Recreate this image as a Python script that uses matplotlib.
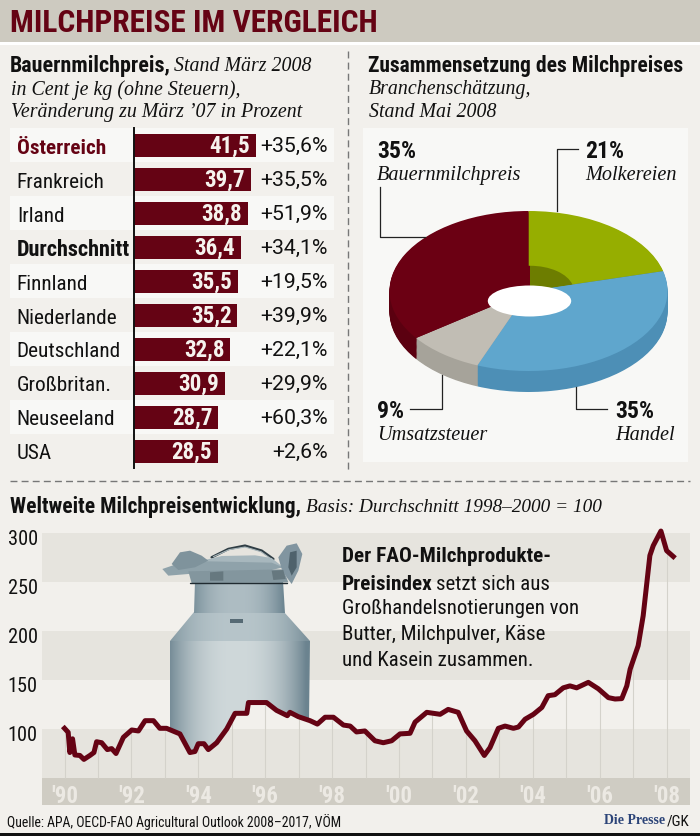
import numpy as np
import matplotlib
matplotlib.use("Agg")
import matplotlib.pyplot as plt
from matplotlib.patches import Polygon, Ellipse, Rectangle
from matplotlib.transforms import ScaledTranslation

# ---------- data ----------
countries = ["Österreich", "Frankreich", "Irland", "Durchschnitt", "Finnland",
             "Niederlande", "Deutschland", "Großbritan.", "Neuseeland", "USA"]
prices = [41.5, 39.7, 38.8, 36.4, 35.5, 35.2, 32.8, 30.9, 28.7, 28.5]
changes = ["+35,6%", "+35,5%", "+51,9%", "+34,1%", "+19,5%",
           "+39,9%", "+22,1%", "+29,9%", "+60,3%", "+2,6%"]

shares = [21, 35, 9, 35]
share_names = ["Molkereien", "Handel", "Umsatzsteuer", "Bauernmilchpreis"]

years = [1990.0, 1990.11, 1990.16, 1990.24, 1990.31, 1990.46, 1990.58, 1990.76, 1990.88, 1990.96,
         1991.11, 1991.28, 1991.41, 1991.54, 1991.76, 1992.01, 1992.21, 1992.41, 1992.66, 1992.85,
         1993.05, 1993.45, 1993.75, 1993.90, 1994.0, 1994.17, 1994.30, 1994.55, 1994.85, 1995.10,
         1995.45, 1995.50, 1995.74, 1996.04, 1996.34, 1996.66, 1996.74, 1996.99, 1997.34, 1997.56,
         1997.79, 1998.04, 1998.34, 1998.54, 1998.73, 1998.98, 1999.28, 1999.53, 1999.78, 2000.03,
         2000.33, 2000.48, 2000.83, 2001.23, 2001.47, 2001.77, 2002.02, 2002.27, 2002.55, 2002.72,
         2002.97, 2003.17, 2003.42, 2003.57, 2003.77, 2004.02, 2004.27, 2004.46, 2004.66, 2004.91,
         2005.11, 2005.31, 2005.66, 2005.96, 2006.26, 2006.46, 2006.66, 2006.81, 2006.91, 2007.15,
         2007.30, 2007.50, 2007.60, 2007.83, 2008.0, 2008.2]
index = [100.7, 96.6, 76, 90, 73.5, 73, 69, 73, 76, 87,
         86, 79, 80, 75, 91.5, 99, 98, 108.5, 108.5, 100.7,
         100.7, 95, 76, 77, 85, 85, 79, 86, 100, 116,
         116, 127, 127, 127, 119, 113.6, 117, 112.6, 108.5, 105,
         112, 112, 104, 103, 97, 98, 88, 86, 88, 95,
         95.6, 107, 117, 115, 120, 117, 98, 88, 73, 81,
         100.7, 103, 100.7, 102, 110, 115, 122, 134, 135, 142,
         144, 142, 147.6, 141, 132, 130.6, 131, 144, 161, 185,
         215.6, 277, 287, 302, 282, 276]
year_ticks = list(range(1990, 2009, 2))
year_labels = ["'90", "'92", "'94", "'96", "'98", "'00", "'02", "'04", "'06", "'08"]
index_ticks = [100, 150, 200, 250, 300]

# ---------- style ----------
W, H = 700, 837
BG = "#f2f0ec"; LIGHT = "#f8f8f6"; HEAD = "#cdcac0"; RED = "#650314"
BAND = "#e6e4de"; STRIP = "#cfccc3"
NARROW = ["Roboto Condensed", "DejaVu Sans"]
WIDE = ["Roboto", "DejaVu Sans"]
SERIF = ["Liberation Serif", "DejaVu Serif"]
IT = 14.3

fig = plt.figure(figsize=(7, 8.37), dpi=100, facecolor=BG)

def px_axes(l, t, r, b, z):
    ax = fig.add_axes([l / W, 1 - b / H, (r - l) / W, (b - t) / H], zorder=z)
    ax.patch.set_alpha(0)
    return ax

back = px_axes(0, 0, W, H, 0); back.set_xlim(0, W); back.set_ylim(H, 0); back.axis("off")
top = px_axes(0, 0, W, H, 5); top.set_xlim(0, W); top.set_ylim(H, 0); top.axis("off")

def rect(x0, y0, x1, y1, c):
    back.add_patch(Rectangle((x0, y0), x1 - x0, y1 - y0, fc=c, ec="none"))

rect(0, 0, W, 43, HEAD)
rect(0, 43, W, 46, "#ffffff")
rect(363, 129, 688, 463, LIGHT)
for i in range(0, 10, 2):
    rect(10, 129 + 34 * i, 334, 163 + 34 * i, LIGHT)
rect(0, 833.5, W, H, "#111111")
back.plot([348, 348], [52, 472], color="#777777", lw=1, dashes=(5, 3))
back.plot([10, 690], [482, 482], color="#777777", lw=1, dashes=(5, 3))

def T(x, y, s, size, fam=NARROW, w="normal", st="normal", c="#111111", ha="left"):
    return top.text(x, y, s, fontsize=size, family=fam, weight=w, style=st, color=c,
                    ha=ha, va="center")

T(10, 23, "MILCHPREISE IM VERGLEICH", 22.6, w="bold", c=RED)

T(10, 66, "Bauernmilchpreis,", 15.8, w="bold")
T(174, 66, "Stand März 2008", IT, SERIF, st="italic")
T(11, 90, "in Cent je kg (ohne Steuern),", IT, SERIF, st="italic")
T(11, 112, "Veränderung zu März ’07 in Prozent", IT, SERIF, st="italic")

T(368, 66, "Zusammensetzung des Milchpreises", 15.5, w="bold")
T(369, 89, "Branchenschätzung,", IT, SERIF, st="italic")
T(369, 112, "Stand Mai 2008", IT, SERIF, st="italic")

T(10, 507, "Weltweite Milchpreisentwicklung,", 15.5, w="bold")
T(306, 507, "Basis: Durchschnitt 1998–2000 = 100", 13.9, SERIF, st="italic")

# ---------- bars ----------
ax = px_axes(133.5, 129, 335, 469, 2)
ax.set_xlim(0, (335 - 133.5) / 2.95)
ax.set_ylim(9.5, -0.5)
pos = np.arange(len(prices))
ax.barh(pos, prices, height=23 / 34, color=RED)
for s in ("top", "right", "bottom"):
    ax.spines[s].set_visible(False)
ax.spines["left"].set_linewidth(1.4)
ax.spines["left"].set_color("#111111")
ax.set_xticks([])
ax.set_yticks(pos, countries)
ax.tick_params(axis="y", length=0, pad=84)
for i, lab in enumerate(ax.get_yticklabels()):
    lab.set_ha("left"); lab.set_family(NARROW); lab.set_fontsize(15.3); lab.set_color("#111111")
    if i == 0:
        lab.set_weight("bold"); lab.set_color(RED)
    if i == 3:
        lab.set_weight("bold"); lab.set_fontsize(16)
for i, (v, c) in enumerate(zip(prices, changes)):
    ax.text(v - 2.0, i, f"{v:.1f}".replace(".", ","), color="#f6f3ee", weight="bold",
            family=NARROW, fontsize=16.6, ha="right", va="center")
    ax.text(65.9, i, c, color="#111111", family=WIDE, fontsize=15.3, ha="right", va="center")

# ---------- donut ----------
cx, cy, rx, ry = 528.5, 292, 139, 80
depth = 21 / ry
pad = 0.45
pie = px_axes(cx - rx * (1 + pad), cy - ry * (1 + pad), cx + rx * (1 + pad), cy + ry * (1 + pad), 2)
top_cols = ["#96ae00", "#5fa6cd", "#c1bdb4", "#6b0013"]
side_cols = ["#6f8200", "#4d8fb6", "#a6a39a", "#5b0010"]
wall_cols = ["#6d7d00", "#5fa6cd", "#c1bdb4", "#6b0013"]
for d in np.linspace(depth, 0.01, 24):
    pie.pie(shares, colors=side_cols, startangle=90, counterclock=False, center=(0, -d),
            wedgeprops=dict(linewidth=0))
pie.pie(shares, colors=top_cols, startangle=90, counterclock=False,
        wedgeprops=dict(linewidth=0))
hrx, hry = 43 / rx, 27 / ry
hole_c = (1.5 / rx, 0.0)
wall, _ = pie.pie(shares, colors=wall_cols, startangle=90, counterclock=False, radius=hry,
                  center=hole_c, wedgeprops=dict(linewidth=0))
pie.set_aspect("auto")
pie.set_xlim(-1 - pad, 1 + pad)
pie.set_ylim(-1 - pad, 1 + pad)
for w_ in wall:
    w_.set_radius(hrx * 1.02)
hole_clip = Ellipse(hole_c, 2 * hrx, 2 * hry, fc="none", ec="none", transform=pie.transData)
pie.add_patch(hole_clip)
for w_ in wall:
    w_.set_clip_path(hole_clip)
white = Ellipse((1.0 / rx, -10 / ry), 2 * 41.7 / rx, 2 * 15.5 / ry, fc="#ffffff", ec="none", zorder=30)
pie.add_patch(white)

for xs, ys in [([380, 380, 425], [188, 238, 238]), ([557, 557, 578], [212, 150, 150]),
               ([442, 442, 410], [376, 410, 410]), ([576, 576, 607], [388, 410, 410])]:
    top.plot(xs, ys, color="#222222", lw=0.9)
T(377, 151, "35%", 17, w="bold"); T(377, 175, share_names[3], 14.6, SERIF, st="italic")
T(585, 151, "21%", 17, w="bold"); T(585, 175, share_names[0], 14.6, SERIF, st="italic")
T(377, 412, "9%", 17, w="bold"); T(377, 436, share_names[2], 14.6, SERIF, st="italic")
T(615, 412, "35%", 17, w="bold"); T(615, 436, share_names[1], 14.6, SERIF, st="italic")

# ---------- line chart ----------
ch = px_axes(42, 530, 690, 806, 2)
px2x = lambda p: 1990 + (np.asarray(p, float) - 64.5) / 33.45
px2y = lambda p: 100 + (730 - np.asarray(p, float)) / 0.98
ch.set_xlim(px2x(42), px2x(690))
ch.set_ylim(px2y(806), px2y(530))
for s in ch.spines.values():
    s.set_visible(False)
for lo, hi in [(250, 300), (150, 200), (50, 100)]:
    ch.axhspan(lo, hi, color=BAND, lw=0, zorder=1)
ch.axhspan(px2y(806), 50, color=STRIP, lw=0, zorder=1)
yr_lines = np.arange(1990, 2009)
ch.vlines(yr_lines, 50, np.interp(yr_lines, years, index), color="#d4d2cb", lw=0.8, zorder=2)

# milk can, painted as clipped gradient shapes
def can_image(extent_px, dark, lite, z, clip):
    xx = np.linspace(-1, 1, 200)
    prof = np.clip(1 - np.abs(xx + 0.05) ** 2.4, 0, 1)[None, :, None]
    d = np.array(matplotlib.colors.to_rgb(dark))[None, None, :]
    l = np.array(matplotlib.colors.to_rgb(lite))[None, None, :]
    img = d + (l - d) * prof
    x0, x1, y0, y1 = extent_px
    im = ch.imshow(img, extent=[px2x(x0), px2x(x1), px2y(y1), px2y(y0)], aspect="auto", zorder=z)
    poly = Polygon(np.column_stack([px2x(clip[:, 0]), px2y(clip[:, 1])]), fc="none", ec="none",
                   transform=ch.transData)
    ch.add_patch(poly)
    im.set_clip_path(poly)
    return im

lx = np.arange(169, 311, 2.0)
ly = 730 - (np.interp(px2x(lx), years, index) - 100) * 0.98
body = np.vstack([[[170, 642], [310, 642]], np.column_stack([lx, ly])[::-1]])
can_image((170, 310, 640, 770), "#6b838f", "#cfd8da", 3, body)
shoulder = np.array([[194, 613], [284, 613], [310, 642], [170, 642]], float)
can_image((170, 310, 610, 645), "#7c929c", "#b7c5ca", 3, shoulder)
neck = np.array([[195, 582], [283, 582], [285, 614], [194, 614]], float)
can_image((192, 286, 580, 615), "#6e8692", "#aebdc3", 3, neck)

def P(pts, c, z=4):
    a = np.array(pts, float)
    a = np.column_stack([155 + a[:, 0] / 3, 535 + a[:, 1] / 3])
    ch.add_patch(Polygon(np.column_stack([px2x(a[:, 0]), px2y(a[:, 1])]), fc=c, ec="none", zorder=z))

def L(pts, c, lw, z=4):
    a = np.array(pts, float)
    ch.plot(px2x(155 + a[:, 0] / 3), px2y(535 + a[:, 1] / 3), color=c, lw=lw, zorder=z,
            solid_capstyle="round")

L([(170, 70), (220, 45), (270, 35), (320, 50), (355, 75)], "#2f3d44", 1.8)
L([(175, 68), (222, 47), (270, 39), (318, 53), (350, 76)], "#a9b7bb", 0.8)
P([(150, 78), (200, 66), (300, 64), (350, 72), (385, 100), (100, 115)], "#a7b7bd")
P([(22, 105), (60, 92), (160, 82), (350, 86), (385, 100), (350, 108), (100, 120), (40, 125)], "#8fa2aa")
P([(100, 112), (385, 106), (400, 145), (110, 148)], "#83969e")
L([(105, 148), (395, 148)], "#1f2a30", 1.0, 5)
P([(50, 90), (75, 55), (105, 50), (140, 65), (160, 80), (120, 100), (70, 108)], "#7f939c")
P([(370, 70), (395, 35), (425, 28), (442, 60), (430, 110), (410, 150), (395, 130), (380, 105)], "#8195a0")
P([(405, 55), (425, 50), (425, 100), (410, 125), (400, 100)], "#4f626c")
P([(165, 115), (205, 112), (205, 140), (165, 140)], "#66787f", 5)
P([(350, 110), (385, 108), (392, 135), (355, 138)], "#66787f", 5)
P([(225, 254), (265, 254), (265, 266), (225, 266)], "#566a74", 5)

ch.plot(years, index, color=RED, lw=3.6, zorder=6, solid_joinstyle="round", clip_on=False)
ch.set_xticks(year_ticks, year_labels)
ch.set_yticks(index_ticks, [str(v) for v in index_ticks])
ch.tick_params(axis="x", length=0, pad=-15, labelsize=16.5, labelcolor="#ece9e3")
ch.tick_params(axis="y", length=0, pad=3, labelsize=14.6, labelcolor="#111111")
for lab in ch.get_xticklabels() + ch.get_yticklabels():
    lab.set_family(NARROW)
for lab in ch.get_xticklabels():
    lab.set_weight("bold")
shift = ScaledTranslation(0, -2.5 / 72, fig.dpi_scale_trans)
for lab in ch.get_yticklabels():
    lab.set_transform(lab.get_transform() + shift)

T(342, 557, "Der FAO-Milchprodukte-", 15.3, w="bold")
T(342, 584, "Preisindex", 15.3, w="bold")
T(436, 584, "setzt sich aus", 15)
T(342, 609, "Großhandelsnotierungen von", 15)
T(342, 634, "Butter, Milchpulver, Käse", 15)
T(342, 660, "und Kasein zusammen.", 15)

T(7, 822, "Quelle: APA, OECD-FAO Agricultural Outlook 2008–2017, VÖM", 9.9)
T(665, 821, "Die Presse", 10, SERIF, w="bold", c="#2c4478", ha="right")
T(690, 822, "/GK", 11, ha="right")

fig.savefig("out.png", dpi=100, facecolor=BG)
